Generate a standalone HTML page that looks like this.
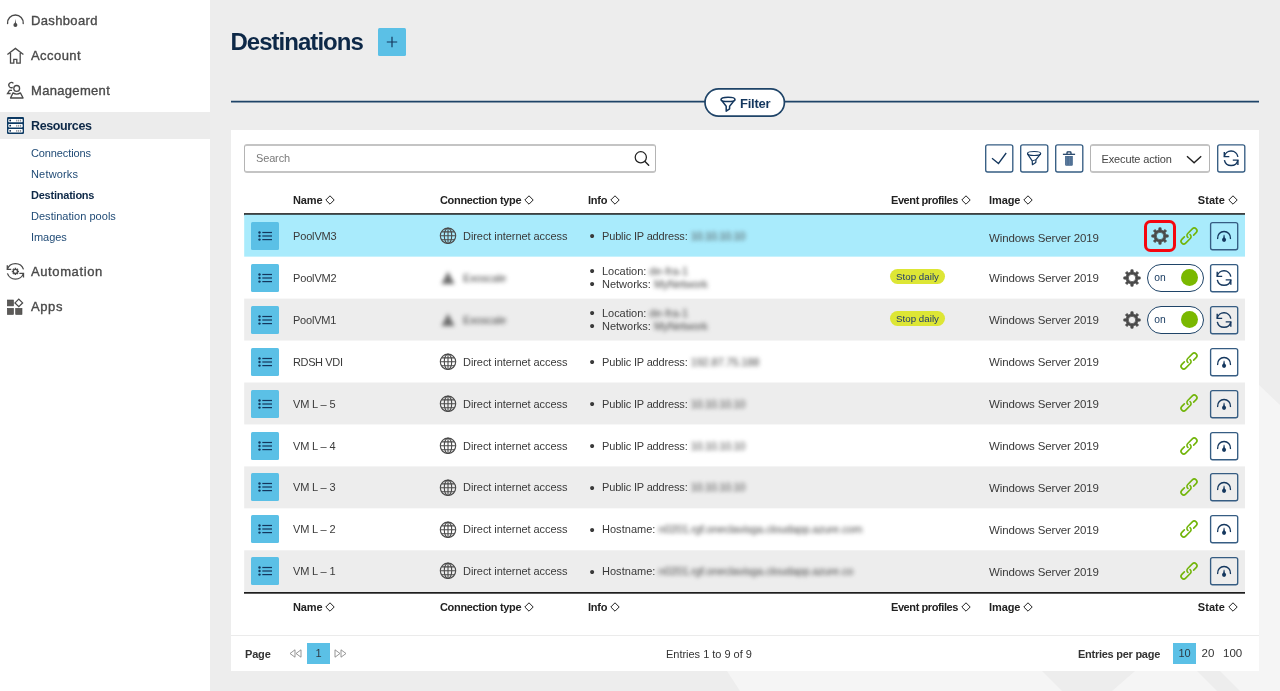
<!DOCTYPE html>
<html lang="en">
<head>
<meta charset="utf-8">
<title>Destinations</title>
<style>
*{box-sizing:border-box;margin:0;padding:0}
html,body{width:1280px;height:691px;overflow:hidden}
body{background:#ededed;font-family:"Liberation Sans",sans-serif;font-size:11px;color:#333;position:relative}
.abs{position:absolute}
svg{display:block;overflow:visible}
/* sidebar */
#side{position:absolute;left:0;top:0;width:210px;height:691px;background:#fff}
.nav{position:absolute;left:0;width:210px;height:28px}
.nav svg{position:absolute;left:6px;top:4px;width:19px;height:19px}
.nav>span{position:absolute;left:31px;top:1px;line-height:28px;font-size:13px;font-weight:normal;color:#4a4a4a;-webkit-text-stroke:0.35px #4a4a4a;white-space:nowrap}
#band{position:absolute;left:0;top:112px;width:210px;height:27px;background:#ececec}
.nav.act>span{color:#0d2847;font-weight:bold;font-size:12.5px;-webkit-text-stroke:0}
.sub{position:absolute;left:31px;font-size:11px;line-height:14px;color:#1f4a75;white-space:nowrap}
.sub.cur{font-weight:bold;color:#0d2847}
/* main */
h1{position:absolute;left:230.4px;top:27px;font-size:24px;line-height:30px;font-weight:bold;color:#0d2847;white-space:nowrap}
#add{position:absolute;left:378px;top:28px;width:28px;height:28px;background:#5bc0e6;border-radius:1.5px}
#hr{position:absolute;left:231px;top:86px;width:1028px;height:34px}
#fpill{position:absolute;left:704px;top:88px;width:81px;height:29px}
#fpill>span{white-space:nowrap;position:absolute;left:36px;top:3px;line-height:26px;font-size:13px;font-weight:bold;color:#14375e}
#card{position:absolute;left:231px;top:130px;width:1028px;height:541px;background:#fff}
#search{position:absolute;left:244px;top:144px;width:412px;height:29px;border:1px solid #bcbcbc;border-top-width:2px;border-bottom-width:2px;border-color:#c4c4c4 #b4b4b4;border-radius:3px;background:#fff}
#search>span{white-space:nowrap;position:absolute;left:11px;top:0;line-height:25px;font-size:11px;color:#7a7a7a}
.tb{position:absolute;top:144px;width:30px;height:30px}
#sel{position:absolute;left:1090px;top:144px;width:120px;height:29px;border:1px solid #bcbcbc;border-top-width:2px;border-bottom-width:2px;border-color:#c4c4c4 #b4b4b4;border-radius:3px;background:#fff}
#sel>span{white-space:nowrap;position:absolute;left:10.5px;top:0;line-height:26px;font-size:11px;color:#444}
.th{position:absolute;font-size:11px;font-weight:bold;color:#222;line-height:14px;white-space:nowrap}
.th svg{display:inline-block;width:10px;height:10px;vertical-align:-1px;margin-left:3px}
.thr{text-align:right}
.rule{position:absolute;left:244px;width:1001px;height:3px}
.r1{top:213px;background:linear-gradient(to bottom,rgba(30,30,30,.85) 0,rgba(30,30,30,.85) 1px,#1e1e1e 1px,#1e1e1e 2px,rgba(30,30,30,.5) 2px,rgba(30,30,30,.5) 3px)}
.r2{top:592px;background:linear-gradient(to bottom,#1e1e1e 0,#1e1e1e 1px,rgba(30,30,30,.72) 1px,rgba(30,30,30,.72) 2px,rgba(30,30,30,0) 2px)}
.row{position:absolute;left:244px;width:1001px;height:42px}
.row.sel .img{top:2.3px}
.row>*{position:absolute;margin-left:1px}
.mb{left:6px;top:7px;width:28px;height:28px;background:#5bc0e6;border-radius:1.5px}
.nm{left:48px;top:0;line-height:42px;white-space:nowrap;color:#3a3a3a}
.gl{left:194px;top:12.2px;width:18px;height:18px}
.ct{left:218px;top:0;line-height:42px;white-space:nowrap;color:#3a3a3a}
.inf{left:345px;top:0;line-height:42px;white-space:nowrap;color:#3a3a3a}
.inf2{left:345px;top:8px;line-height:13px;white-space:nowrap;color:#3a3a3a}
.inf b,.inf2 b{font-weight:normal;display:inline-block;width:12px;font-size:15px;line-height:10px;vertical-align:-1.5px;text-indent:-0.5px}
.bl{filter:blur(2.1px);color:#484848}
.img{left:744px;top:0.6px;line-height:43px;font-size:11.5px;white-space:nowrap;color:#3a3a3a}
.ab{left:964px;top:6px;width:30px;height:30px}
.lk{left:934.2px;top:10.9px;width:20px;height:20px}
.tag{left:644.7px;top:12px;height:15.3px;width:55.6px;border-radius:8px;background:#dde635;color:#1f3a6e;font-size:9.7px;line-height:15.5px;text-align:center}
.tg{left:902px;top:7px;width:57px;height:28px;border:1px solid #1f4468;border-radius:14px;background:#fff}
.tg i{position:absolute;left:32.6px;top:4px;width:17px;height:17px;border-radius:50%;background:#7ab800}
.tg>span{position:absolute;left:6.2px;top:0;line-height:25.5px;font-size:10.3px;font-style:normal;color:#14375e}
.gr{left:878px;top:12.2px;width:18px;height:18px}
#redbox{position:absolute;left:1144px;top:220px;width:31.5px;height:31.5px;border:3px solid #f5060f;border-radius:6.5px}
#sep{position:absolute;left:231px;top:634.5px;width:1028px;height:1.5px;background:#ebebeb}
.pg{position:absolute;font-size:11px;line-height:14px;white-space:nowrap;color:#333}
.pn{font-size:11.5px}
.pgb{position:absolute;background:#5bc0e6;color:#2d3a45;font-size:11px;text-align:center}
</style>
</head>
<body>
<svg width="1280" height="691" viewBox="0 0 1280 691" style="position:absolute;left:0;top:0"><path d="M1259 385L1280 405V691H740L727 671H1259Z" fill="#f5f5f5"/><path d="M1042 671H1135L1112 691H1062ZM1197 671H1220L1240 691H1217Z" fill="#ededed"/></svg>
<div id="side"><div id="band"></div>
<div class="nav" style="top:6px"><svg viewBox="0 0 19 19" width="19" height="19" style=""><path d="M1.58 13.5A7.85 7.85 0 1 1 17.22 13.5" fill="none" stroke="#4a4a4a" stroke-width="1.35" stroke-linecap="round"/><path d="M9.4 8.9l.75 5.4h-1.5z" fill="#4a4a4a"/><circle cx="9.4" cy="15" r="2" fill="#4a4a4a"/></svg><span><span style="letter-spacing:0.35px">Dashboard</span></span></div>
<div class="nav" style="top:41px"><svg viewBox="0 0 19 19" width="19" height="19" style=""><path d="M1.4 9.4L9.4 3.4l8 6M4.5 8v10.2h3.3v-3.8h3v3.8h3.4V8" fill="none" stroke="#4a4a4a" stroke-width="1.3" stroke-linejoin="miter"/></svg><span><span style="letter-spacing:0.44px">Account</span></span></div>
<div class="nav" style="top:76px"><svg viewBox="0 0 19 19" width="19" height="19" style=""><g fill="none" stroke="#4a4a4a" stroke-width="1.3"><circle cx="10.7" cy="8.4" r="2.9"/><path d="M4.5 18L7 12.9Q10.7 15.4 14.4 12.9L17.1 18Z" stroke-linejoin="round"/><path d="M7.4 3.4A2.6 2.6 0 1 0 6.7 7.35"/><path d="M6 10.3H3.5L1.5 13.5H4.6" stroke-linejoin="miter"/></g></svg><span><span style="letter-spacing:0.32px">Management</span></span></div>
<div class="nav act" style="top:111px"><svg viewBox="0 0 19 19" width="19" height="19" style=""><rect x="1" y="2" width="17" height="17" rx="1.2" fill="#0d3a63"/><g fill="#fff"><rect x="2.3" y="3.9" width="14.4" height="3.3" rx=".8"/><rect x="2.3" y="9.1" width="14.4" height="3.3" rx=".8"/><rect x="2.3" y="14.1" width="14.4" height="3.5" rx=".8"/></g><g fill="#0d2a4d"><circle cx="4.2" cy="5.5" r=".9"/><circle cx="4.2" cy="10.7" r=".9"/><circle cx="4.2" cy="15.8" r=".9"/></g><g fill="#8a8f98"><rect x="10.2" y="4.7" width="1.1" height="1.8"/><rect x="12.1" y="4.7" width="1.1" height="1.8"/><rect x="14" y="4.7" width="1.1" height="1.8"/><rect x="10.2" y="9.9" width="1.1" height="1.8"/><rect x="12.1" y="9.9" width="1.1" height="1.8"/><rect x="14" y="9.9" width="1.1" height="1.8"/><rect x="10.2" y="15" width="1.1" height="1.8"/><rect x="12.1" y="15" width="1.1" height="1.8"/><rect x="14" y="15" width="1.1" height="1.8"/></g></svg><span><span style="letter-spacing:-0.37px">Resources</span></span></div>
<div class="nav" style="top:257px"><svg viewBox="0 0 19 19" width="19" height="19" style=""><g fill="none" stroke="#4a4a4a" stroke-width="1.3"><path d="M1.3 8.4A8.55 8.55 0 0 1 17.5 8.4"/><path d="M17.5 12.4A8.55 8.55 0 0 1 1.4 12.4"/><path d="M1.3 4.3V8.4H5.2"/><path d="M13.4 12.4H17.5V16.5"/><circle cx="9.4" cy="10.4" r="2.1"/></g><g stroke="#4a4a4a" stroke-width="1.5"><path d="M9.4 6.8v1.1M9.4 12.9v1.1M5.8 10.4h1.1M11.9 10.4h1.1M6.9 7.9l.8.8M11.1 12.1l.8.8M11.9 7.9l-.8.8M7.7 12.1l-.8.8"/></g></svg><span><span style="letter-spacing:0.61px">Automation</span></span></div>
<div class="nav" style="top:292px"><svg viewBox="0 0 19 19" width="19" height="19" style=""><g fill="#5c5a58" stroke="#454545" stroke-width=".6"><rect x="1.3" y="4" width="6.2" height="5.9"/><rect x="1.3" y="12.3" width="6.2" height="6.2"/><rect x="9.7" y="12.3" width="6.3" height="6.2"/></g><path d="M12.8 3.1l3.8 3.8-3.8 3.8L9 6.9z" fill="none" stroke="#4a4a4a" stroke-width="1.3"/></svg><span><span style="letter-spacing:0.59px">Apps</span></span></div>
<div class="sub" style="top:146px"><span style="letter-spacing:-0.12px">Connections</span></div>
<div class="sub" style="top:167px"><span style="letter-spacing:0.17px">Networks</span></div>
<div class="sub cur" style="top:188px"><span style="letter-spacing:-0.23px">Destinations</span></div>
<div class="sub" style="top:209px"><span style="letter-spacing:0.03px">Destination pools</span></div>
<div class="sub" style="top:230px"><span style="letter-spacing:-0.06px">Images</span></div>
</div>
<h1><span style="letter-spacing:-0.96px">Destinations</span></h1>
<div id="add"><svg viewBox="0 0 28 28" width="28" height="28" style=""><path d="M14 8.8v10.4M8.8 14h10.4" stroke="#14375e" stroke-width="1.2"/></svg></div>
<div id="hr"><svg width="1028" height="34" viewBox="0 0 1028 34"><path d="M0 15.7H1028" stroke="#1f4468" stroke-width="1.7"/><rect x="474" y="2.9" width="79.4" height="27.2" rx="13.6" fill="#fff" stroke="#1f4468" stroke-width="1.7"/></svg></div>
<div id="fpill"><svg viewBox="0 0 16 16" width="16" height="16" style="position:absolute;left:16px;top:8px"><g fill="none" stroke="#14375e" stroke-width="1.5" stroke-linejoin="round"><ellipse cx="8" cy="3.4" rx="7" ry="2.2"/><path d="M1 3.6l5.2 6.6v5l3.4-2.4v-2.6l5.4-6.6"/></g></svg><span><span style="letter-spacing:-0.26px">Filter</span></span></div>
<div id="card"></div>
<div id="search"><span><span style="letter-spacing:-0.15px">Search</span></span><svg viewBox="0 0 20 20" width="20" height="20" style="position:absolute;left:388px;top:4.3px"><circle cx="7.8" cy="7.3" r="5.6" fill="none" stroke="#222" stroke-width="1.25"/><path d="M12 11.5l3.7 3.8" stroke="#222" stroke-width="1.4" stroke-linecap="round"/></svg></div>
<div class="tb" style="left:985px"><svg viewBox="0 0 30 30" width="30" height="30" style=""><rect x="0.70" y="0.80" width="27.1" height="27.2" rx="2" fill="#fff" stroke="#365d83" stroke-width="1.35"/><g transform="translate(0 0.1)"><path d="M7 14.2l6.5 5.2L21.2 8.9" fill="none" stroke="#14375e" stroke-width="1.3"/></g></svg></div>
<div class="tb" style="left:1020px"><svg viewBox="0 0 30 30" width="30" height="30" style=""><rect x="0.70" y="0.80" width="27.1" height="27.2" rx="2" fill="#fff" stroke="#365d83" stroke-width="1.35"/><g transform="translate(0 0.1)"><g fill="none" stroke="#14375e" stroke-width="1.2" stroke-linejoin="round"><ellipse cx="14.1" cy="9.4" rx="6.6" ry="2"/><path d="M7.6 10l4.6 6.8.2 3.8 3.4-2.2.2-2.8 4.6-5.8"/><path d="M12.2 16.8l3.8-1.2" stroke-width=".9"/></g></g></svg></div>
<div class="tb" style="left:1055px"><svg viewBox="0 0 30 30" width="30" height="30" style=""><rect x="0.70" y="0.80" width="27.1" height="27.2" rx="2" fill="#fff" stroke="#365d83" stroke-width="1.35"/><g transform="translate(0 0.1)"><g fill="#14375e"><rect x="7.9" y="9.6" width="12.2" height="1.2"/><path d="M11.4 9.8V8.6q0-1.4 1.4-1.4h2.4q1.4 0 1.4 1.4v1.2h-1.2V8.6q0-.3-.3-.3h-2.2q-.3 0-.3.3v1.2z"/></g><path d="M10.1 12h7.7v8.6q0 1-1 1h-5.7q-1 0-1-1z" fill="#45678c"/><path d="M11.6 12.4v8.6M13 12.4v8.6M14.5 12.4v8.6M16 12.4v8.6" stroke="#6f8cab" stroke-width=".6"/></g></svg></div>
<div id="sel"><span><span style="letter-spacing:-0.13px">Execute action</span></span><svg viewBox="0 0 16 10" width="16" height="10" style="position:absolute;left:95px;top:9.2px"><path d="M1 1.2l7.1 6.6 7.1-6.6" fill="none" stroke="#222" stroke-width="1.4"/></svg></div>
<div class="tb" style="left:1217px"><svg viewBox="0 0 30 30" width="30" height="30" style=""><rect x="0.70" y="0.80" width="27.1" height="27.2" rx="2" fill="#fff" stroke="#365d83" stroke-width="1.35"/><g transform="translate(0 0.1)"><g fill="none" stroke="#14375e" stroke-width="1.4" stroke-linejoin="miter"><path d="M7.3 12.5A6.9 6.9 0 0 1 20.9 12.8"/><path d="M20.9 16A6.9 6.9 0 0 1 7.4 16"/><path d="M7.3 7.8V12.5H12.3"/><path d="M15.8 16H20.9V20.8"/></g></g></svg></div>
<div class="th" style="left:293px;top:193px"><span style="letter-spacing:-0.12px">Name</span><svg viewBox="0 0 10 10" width="10" height="10" style=""><path d="M5 .8L9.2 5 5 9.2.8 5z" fill="none" stroke="#222" stroke-width="1"/></svg></div>
<div class="th" style="left:440px;top:193px"><span style="letter-spacing:-0.33px">Connection type</span><svg viewBox="0 0 10 10" width="10" height="10" style=""><path d="M5 .8L9.2 5 5 9.2.8 5z" fill="none" stroke="#222" stroke-width="1"/></svg></div>
<div class="th" style="left:588px;top:193px"><span style="letter-spacing:-0.22px">Info</span><svg viewBox="0 0 10 10" width="10" height="10" style=""><path d="M5 .8L9.2 5 5 9.2.8 5z" fill="none" stroke="#222" stroke-width="1"/></svg></div>
<div class="th thr" style="right:309px;top:193px"><span style="letter-spacing:-0.41px">Event profiles</span><svg viewBox="0 0 10 10" width="10" height="10" style=""><path d="M5 .8L9.2 5 5 9.2.8 5z" fill="none" stroke="#222" stroke-width="1"/></svg></div>
<div class="th" style="left:989px;top:193px"><span style="letter-spacing:-0.10px">Image</span><svg viewBox="0 0 10 10" width="10" height="10" style=""><path d="M5 .8L9.2 5 5 9.2.8 5z" fill="none" stroke="#222" stroke-width="1"/></svg></div>
<div class="th thr" style="right:42px;top:193px"><span style="letter-spacing:0.05px">State</span><svg viewBox="0 0 10 10" width="10" height="10" style=""><path d="M5 .8L9.2 5 5 9.2.8 5z" fill="none" stroke="#222" stroke-width="1"/></svg></div>
<div class="rule r1"></div>
<svg width="1280" height="691" viewBox="0 0 1280 691" style="position:absolute;left:0;top:0"><rect x="244.2" y="214.70" width="1000.8" height="41.95" fill="#a9ebfc"/><rect x="244.2" y="298.60" width="1000.8" height="41.95" fill="#ededed"/><rect x="244.2" y="382.50" width="1000.8" height="41.95" fill="#ededed"/><rect x="244.2" y="466.40" width="1000.8" height="41.95" fill="#ededed"/><rect x="244.2" y="550.30" width="1000.8" height="41.95" fill="#ededed"/></svg>
<div class="row sel" style="top:214.7px">
<div class="mb"><svg viewBox="0 0 28 28" width="28" height="28" style=""><g fill="#14375e"><circle cx="8.5" cy="10.5" r="1.2"/><circle cx="8.5" cy="14" r="1.2"/><circle cx="8.5" cy="17.6" r="1.2"/><rect x="11.3" y="9.9" width="9.7" height="1.2"/><rect x="11.3" y="13.4" width="9.7" height="1.2"/><rect x="11.3" y="17" width="9.7" height="1.2"/></g></svg></div><div class="nm"><span style="letter-spacing:-0.16px">PoolVM3</span></div>
<div class="gl"><svg viewBox="0 0 18 18" width="18" height="18" style=""><g fill="none" stroke="#4a4a4a" stroke-width="1.1"><circle cx="9" cy="8.8" r="7.7"/><ellipse cx="9" cy="8.8" rx="3.7" ry="7.7"/><path d="M9 1.1v15.4M1.3 8.8h15.4M2.6 4.9h12.8M2.6 12.7h12.8"/></g></svg></div><div class="ct"><span style="letter-spacing:-0.06px">Direct internet access</span></div>
<div class="inf"><b>•</b><span style="letter-spacing:-0.16px">Public IP address:</span> <span class="bl"><span style="letter-spacing:-0.33px">10.10.10.10</span></span></div>
<div class="img"><span style="letter-spacing:-0.14px">Windows Server 2019</span></div>
<div class="gr" style="left:906px"><svg viewBox="0 0 18 18" width="18" height="18" style=""><path d="M7.73 3.03L7.92 0.77L10.08 0.77L10.27 3.03L12.32 3.88L14.06 2.42L15.58 3.94L14.12 5.68L14.97 7.73L17.23 7.92L17.23 10.08L14.97 10.27L14.12 12.32L15.58 14.06L14.06 15.58L12.32 14.12L10.27 14.97L10.08 17.23L7.92 17.23L7.73 14.97L5.68 14.12L3.94 15.58L2.42 14.06L3.88 12.32L3.03 10.27L0.77 10.08L0.77 7.92L3.03 7.73L3.88 5.68L2.42 3.94L3.94 2.42L5.68 3.88ZM5.3 9a3.7 3.7 0 1 0 7.4 0a3.7 3.7 0 1 0 -7.4 0Z" fill="#4a4a4a" fill-rule="evenodd" stroke="#4a4a4a" stroke-width=".7" stroke-linejoin="round"/></svg></div>
<div class="lk"><svg viewBox="0 0 20 20" width="20" height="20" style=""><g fill="none" stroke="#72b50a" stroke-width="1.6" stroke-linecap="round" transform="translate(10 10) rotate(-45)"><path d="M3.9 2.7H7.4A2.7 2.7 0 0 0 7.4 -2.7H.9A2.7 2.7 0 0 0 -1.8 .3"/><path d="M-3.9 -2.7H-7.4A2.7 2.7 0 0 0 -7.4 2.7H-.9A2.7 2.7 0 0 0 1.8 -.3"/></g></svg></div><div class="ab"><svg viewBox="0 0 30 30" width="30" height="30" style=""><rect x="1.60" y="1.55" width="27.1" height="27.2" rx="2" fill="none" stroke="#365d83" stroke-width="1.35"/><g transform="translate(0.9 0.85)"><path d="M7.72 16.6A6.45 6.45 0 1 1 20.58 16.6" fill="none" stroke="#14375e" stroke-width="1.35" stroke-linecap="round"/><path d="M13.8 13h.7l.8 4.6h-2.3z" fill="#14375e"/><circle cx="14.15" cy="18" r="2.05" fill="#14375e"/></g></svg></div>
</div>
<div class="row" style="top:256.65px">
<div class="mb"><svg viewBox="0 0 28 28" width="28" height="28" style=""><g fill="#14375e"><circle cx="8.5" cy="10.5" r="1.2"/><circle cx="8.5" cy="14" r="1.2"/><circle cx="8.5" cy="17.6" r="1.2"/><rect x="11.3" y="9.9" width="9.7" height="1.2"/><rect x="11.3" y="13.4" width="9.7" height="1.2"/><rect x="11.3" y="17" width="9.7" height="1.2"/></g></svg></div><div class="nm"><span style="letter-spacing:-0.16px">PoolVM2</span></div>
<div class="gl bl"><svg viewBox="0 0 18 18" width="18" height="18" style=""><path d="M9 2.5l6.5 12.5H2.5z" fill="#6a6a6a"/></svg></div><div class="ct bl"><span style="letter-spacing:-0.19px">Exoscale</span></div>
<div class="inf2"><b>•</b><span style="letter-spacing:-0.04px">Location:</span> <span class="bl"><span style="letter-spacing:0.04px">de-fra-1</span></span><br><b>•</b><span style="letter-spacing:-0.01px">Networks:</span> <span class="bl"><span style="letter-spacing:-0.15px">MyNetwork</span></span><br></div>
<div class="tag"><span style="letter-spacing:0.05px">Stop daily</span></div>
<div class="img"><span style="letter-spacing:-0.14px">Windows Server 2019</span></div>
<div class="gr"><svg viewBox="0 0 18 18" width="18" height="18" style=""><path d="M7.73 3.03L7.92 0.77L10.08 0.77L10.27 3.03L12.32 3.88L14.06 2.42L15.58 3.94L14.12 5.68L14.97 7.73L17.23 7.92L17.23 10.08L14.97 10.27L14.12 12.32L15.58 14.06L14.06 15.58L12.32 14.12L10.27 14.97L10.08 17.23L7.92 17.23L7.73 14.97L5.68 14.12L3.94 15.58L2.42 14.06L3.88 12.32L3.03 10.27L0.77 10.08L0.77 7.92L3.03 7.73L3.88 5.68L2.42 3.94L3.94 2.42L5.68 3.88ZM5.3 9a3.7 3.7 0 1 0 7.4 0a3.7 3.7 0 1 0 -7.4 0Z" fill="#4a4a4a" fill-rule="evenodd" stroke="#4a4a4a" stroke-width=".7" stroke-linejoin="round"/></svg></div><div class="tg"><span>on</span><i></i></div><div class="ab"><svg viewBox="0 0 30 30" width="30" height="30" style=""><rect x="1.60" y="1.55" width="27.1" height="27.2" rx="2" fill="none" stroke="#365d83" stroke-width="1.35"/><g transform="translate(0.9 0.85)"><g fill="none" stroke="#14375e" stroke-width="1.4" stroke-linejoin="miter"><path d="M7.3 12.5A6.9 6.9 0 0 1 20.9 12.8"/><path d="M20.9 16A6.9 6.9 0 0 1 7.4 16"/><path d="M7.3 7.8V12.5H12.3"/><path d="M15.8 16H20.9V20.8"/></g></g></svg></div>
</div>
<div class="row alt" style="top:298.6px">
<div class="mb"><svg viewBox="0 0 28 28" width="28" height="28" style=""><g fill="#14375e"><circle cx="8.5" cy="10.5" r="1.2"/><circle cx="8.5" cy="14" r="1.2"/><circle cx="8.5" cy="17.6" r="1.2"/><rect x="11.3" y="9.9" width="9.7" height="1.2"/><rect x="11.3" y="13.4" width="9.7" height="1.2"/><rect x="11.3" y="17" width="9.7" height="1.2"/></g></svg></div><div class="nm"><span style="letter-spacing:-0.22px">PoolVM1</span></div>
<div class="gl bl"><svg viewBox="0 0 18 18" width="18" height="18" style=""><path d="M9 2.5l6.5 12.5H2.5z" fill="#6a6a6a"/></svg></div><div class="ct bl"><span style="letter-spacing:-0.19px">Exoscale</span></div>
<div class="inf2"><b>•</b><span style="letter-spacing:-0.04px">Location:</span> <span class="bl"><span style="letter-spacing:0.04px">de-fra-1</span></span><br><b>•</b><span style="letter-spacing:-0.01px">Networks:</span> <span class="bl"><span style="letter-spacing:-0.15px">MyNetwork</span></span><br></div>
<div class="tag"><span style="letter-spacing:0.05px">Stop daily</span></div>
<div class="img"><span style="letter-spacing:-0.14px">Windows Server 2019</span></div>
<div class="gr"><svg viewBox="0 0 18 18" width="18" height="18" style=""><path d="M7.73 3.03L7.92 0.77L10.08 0.77L10.27 3.03L12.32 3.88L14.06 2.42L15.58 3.94L14.12 5.68L14.97 7.73L17.23 7.92L17.23 10.08L14.97 10.27L14.12 12.32L15.58 14.06L14.06 15.58L12.32 14.12L10.27 14.97L10.08 17.23L7.92 17.23L7.73 14.97L5.68 14.12L3.94 15.58L2.42 14.06L3.88 12.32L3.03 10.27L0.77 10.08L0.77 7.92L3.03 7.73L3.88 5.68L2.42 3.94L3.94 2.42L5.68 3.88ZM5.3 9a3.7 3.7 0 1 0 7.4 0a3.7 3.7 0 1 0 -7.4 0Z" fill="#4a4a4a" fill-rule="evenodd" stroke="#4a4a4a" stroke-width=".7" stroke-linejoin="round"/></svg></div><div class="tg"><span>on</span><i></i></div><div class="ab"><svg viewBox="0 0 30 30" width="30" height="30" style=""><rect x="1.60" y="1.55" width="27.1" height="27.2" rx="2" fill="none" stroke="#365d83" stroke-width="1.35"/><g transform="translate(0.9 0.85)"><g fill="none" stroke="#14375e" stroke-width="1.4" stroke-linejoin="miter"><path d="M7.3 12.5A6.9 6.9 0 0 1 20.9 12.8"/><path d="M20.9 16A6.9 6.9 0 0 1 7.4 16"/><path d="M7.3 7.8V12.5H12.3"/><path d="M15.8 16H20.9V20.8"/></g></g></svg></div>
</div>
<div class="row" style="top:340.55px">
<div class="mb"><svg viewBox="0 0 28 28" width="28" height="28" style=""><g fill="#14375e"><circle cx="8.5" cy="10.5" r="1.2"/><circle cx="8.5" cy="14" r="1.2"/><circle cx="8.5" cy="17.6" r="1.2"/><rect x="11.3" y="9.9" width="9.7" height="1.2"/><rect x="11.3" y="13.4" width="9.7" height="1.2"/><rect x="11.3" y="17" width="9.7" height="1.2"/></g></svg></div><div class="nm"><span style="letter-spacing:-0.37px">RDSH VDI</span></div>
<div class="gl"><svg viewBox="0 0 18 18" width="18" height="18" style=""><g fill="none" stroke="#4a4a4a" stroke-width="1.1"><circle cx="9" cy="8.8" r="7.7"/><ellipse cx="9" cy="8.8" rx="3.7" ry="7.7"/><path d="M9 1.1v15.4M1.3 8.8h15.4M2.6 4.9h12.8M2.6 12.7h12.8"/></g></svg></div><div class="ct"><span style="letter-spacing:-0.06px">Direct internet access</span></div>
<div class="inf"><b>•</b><span style="letter-spacing:-0.16px">Public IP address:</span> <span class="bl"><span style="letter-spacing:-0.13px">192.87.75.188</span></span></div>
<div class="img"><span style="letter-spacing:-0.14px">Windows Server 2019</span></div>
<div class="lk"><svg viewBox="0 0 20 20" width="20" height="20" style=""><g fill="none" stroke="#72b50a" stroke-width="1.6" stroke-linecap="round" transform="translate(10 10) rotate(-45)"><path d="M3.9 2.7H7.4A2.7 2.7 0 0 0 7.4 -2.7H.9A2.7 2.7 0 0 0 -1.8 .3"/><path d="M-3.9 -2.7H-7.4A2.7 2.7 0 0 0 -7.4 2.7H-.9A2.7 2.7 0 0 0 1.8 -.3"/></g></svg></div><div class="ab"><svg viewBox="0 0 30 30" width="30" height="30" style=""><rect x="1.60" y="1.55" width="27.1" height="27.2" rx="2" fill="none" stroke="#365d83" stroke-width="1.35"/><g transform="translate(0.9 0.85)"><path d="M7.72 16.6A6.45 6.45 0 1 1 20.58 16.6" fill="none" stroke="#14375e" stroke-width="1.35" stroke-linecap="round"/><path d="M13.8 13h.7l.8 4.6h-2.3z" fill="#14375e"/><circle cx="14.15" cy="18" r="2.05" fill="#14375e"/></g></svg></div>
</div>
<div class="row alt" style="top:382.5px">
<div class="mb"><svg viewBox="0 0 28 28" width="28" height="28" style=""><g fill="#14375e"><circle cx="8.5" cy="10.5" r="1.2"/><circle cx="8.5" cy="14" r="1.2"/><circle cx="8.5" cy="17.6" r="1.2"/><rect x="11.3" y="9.9" width="9.7" height="1.2"/><rect x="11.3" y="13.4" width="9.7" height="1.2"/><rect x="11.3" y="17" width="9.7" height="1.2"/></g></svg></div><div class="nm"><span style="letter-spacing:-0.16px">VM L – 5</span></div>
<div class="gl"><svg viewBox="0 0 18 18" width="18" height="18" style=""><g fill="none" stroke="#4a4a4a" stroke-width="1.1"><circle cx="9" cy="8.8" r="7.7"/><ellipse cx="9" cy="8.8" rx="3.7" ry="7.7"/><path d="M9 1.1v15.4M1.3 8.8h15.4M2.6 4.9h12.8M2.6 12.7h12.8"/></g></svg></div><div class="ct"><span style="letter-spacing:-0.06px">Direct internet access</span></div>
<div class="inf"><b>•</b><span style="letter-spacing:-0.16px">Public IP address:</span> <span class="bl"><span style="letter-spacing:-0.33px">10.10.10.10</span></span></div>
<div class="img"><span style="letter-spacing:-0.14px">Windows Server 2019</span></div>
<div class="lk"><svg viewBox="0 0 20 20" width="20" height="20" style=""><g fill="none" stroke="#72b50a" stroke-width="1.6" stroke-linecap="round" transform="translate(10 10) rotate(-45)"><path d="M3.9 2.7H7.4A2.7 2.7 0 0 0 7.4 -2.7H.9A2.7 2.7 0 0 0 -1.8 .3"/><path d="M-3.9 -2.7H-7.4A2.7 2.7 0 0 0 -7.4 2.7H-.9A2.7 2.7 0 0 0 1.8 -.3"/></g></svg></div><div class="ab"><svg viewBox="0 0 30 30" width="30" height="30" style=""><rect x="1.60" y="1.55" width="27.1" height="27.2" rx="2" fill="none" stroke="#365d83" stroke-width="1.35"/><g transform="translate(0.9 0.85)"><path d="M7.72 16.6A6.45 6.45 0 1 1 20.58 16.6" fill="none" stroke="#14375e" stroke-width="1.35" stroke-linecap="round"/><path d="M13.8 13h.7l.8 4.6h-2.3z" fill="#14375e"/><circle cx="14.15" cy="18" r="2.05" fill="#14375e"/></g></svg></div>
</div>
<div class="row" style="top:424.75px">
<div class="mb"><svg viewBox="0 0 28 28" width="28" height="28" style=""><g fill="#14375e"><circle cx="8.5" cy="10.5" r="1.2"/><circle cx="8.5" cy="14" r="1.2"/><circle cx="8.5" cy="17.6" r="1.2"/><rect x="11.3" y="9.9" width="9.7" height="1.2"/><rect x="11.3" y="13.4" width="9.7" height="1.2"/><rect x="11.3" y="17" width="9.7" height="1.2"/></g></svg></div><div class="nm"><span style="letter-spacing:-0.16px">VM L – 4</span></div>
<div class="gl"><svg viewBox="0 0 18 18" width="18" height="18" style=""><g fill="none" stroke="#4a4a4a" stroke-width="1.1"><circle cx="9" cy="8.8" r="7.7"/><ellipse cx="9" cy="8.8" rx="3.7" ry="7.7"/><path d="M9 1.1v15.4M1.3 8.8h15.4M2.6 4.9h12.8M2.6 12.7h12.8"/></g></svg></div><div class="ct"><span style="letter-spacing:-0.06px">Direct internet access</span></div>
<div class="inf"><b>•</b><span style="letter-spacing:-0.16px">Public IP address:</span> <span class="bl"><span style="letter-spacing:-0.33px">10.10.10.10</span></span></div>
<div class="img"><span style="letter-spacing:-0.14px">Windows Server 2019</span></div>
<div class="lk"><svg viewBox="0 0 20 20" width="20" height="20" style=""><g fill="none" stroke="#72b50a" stroke-width="1.6" stroke-linecap="round" transform="translate(10 10) rotate(-45)"><path d="M3.9 2.7H7.4A2.7 2.7 0 0 0 7.4 -2.7H.9A2.7 2.7 0 0 0 -1.8 .3"/><path d="M-3.9 -2.7H-7.4A2.7 2.7 0 0 0 -7.4 2.7H-.9A2.7 2.7 0 0 0 1.8 -.3"/></g></svg></div><div class="ab"><svg viewBox="0 0 30 30" width="30" height="30" style=""><rect x="1.60" y="1.55" width="27.1" height="27.2" rx="2" fill="none" stroke="#365d83" stroke-width="1.35"/><g transform="translate(0.9 0.85)"><path d="M7.72 16.6A6.45 6.45 0 1 1 20.58 16.6" fill="none" stroke="#14375e" stroke-width="1.35" stroke-linecap="round"/><path d="M13.8 13h.7l.8 4.6h-2.3z" fill="#14375e"/><circle cx="14.15" cy="18" r="2.05" fill="#14375e"/></g></svg></div>
</div>
<div class="row alt" style="top:466.4px">
<div class="mb"><svg viewBox="0 0 28 28" width="28" height="28" style=""><g fill="#14375e"><circle cx="8.5" cy="10.5" r="1.2"/><circle cx="8.5" cy="14" r="1.2"/><circle cx="8.5" cy="17.6" r="1.2"/><rect x="11.3" y="9.9" width="9.7" height="1.2"/><rect x="11.3" y="13.4" width="9.7" height="1.2"/><rect x="11.3" y="17" width="9.7" height="1.2"/></g></svg></div><div class="nm"><span style="letter-spacing:-0.16px">VM L – 3</span></div>
<div class="gl"><svg viewBox="0 0 18 18" width="18" height="18" style=""><g fill="none" stroke="#4a4a4a" stroke-width="1.1"><circle cx="9" cy="8.8" r="7.7"/><ellipse cx="9" cy="8.8" rx="3.7" ry="7.7"/><path d="M9 1.1v15.4M1.3 8.8h15.4M2.6 4.9h12.8M2.6 12.7h12.8"/></g></svg></div><div class="ct"><span style="letter-spacing:-0.06px">Direct internet access</span></div>
<div class="inf"><b>•</b><span style="letter-spacing:-0.16px">Public IP address:</span> <span class="bl"><span style="letter-spacing:-0.33px">10.10.10.10</span></span></div>
<div class="img"><span style="letter-spacing:-0.14px">Windows Server 2019</span></div>
<div class="lk"><svg viewBox="0 0 20 20" width="20" height="20" style=""><g fill="none" stroke="#72b50a" stroke-width="1.6" stroke-linecap="round" transform="translate(10 10) rotate(-45)"><path d="M3.9 2.7H7.4A2.7 2.7 0 0 0 7.4 -2.7H.9A2.7 2.7 0 0 0 -1.8 .3"/><path d="M-3.9 -2.7H-7.4A2.7 2.7 0 0 0 -7.4 2.7H-.9A2.7 2.7 0 0 0 1.8 -.3"/></g></svg></div><div class="ab"><svg viewBox="0 0 30 30" width="30" height="30" style=""><rect x="1.60" y="1.55" width="27.1" height="27.2" rx="2" fill="none" stroke="#365d83" stroke-width="1.35"/><g transform="translate(0.9 0.85)"><path d="M7.72 16.6A6.45 6.45 0 1 1 20.58 16.6" fill="none" stroke="#14375e" stroke-width="1.35" stroke-linecap="round"/><path d="M13.8 13h.7l.8 4.6h-2.3z" fill="#14375e"/><circle cx="14.15" cy="18" r="2.05" fill="#14375e"/></g></svg></div>
</div>
<div class="row" style="top:508.35px">
<div class="mb"><svg viewBox="0 0 28 28" width="28" height="28" style=""><g fill="#14375e"><circle cx="8.5" cy="10.5" r="1.2"/><circle cx="8.5" cy="14" r="1.2"/><circle cx="8.5" cy="17.6" r="1.2"/><rect x="11.3" y="9.9" width="9.7" height="1.2"/><rect x="11.3" y="13.4" width="9.7" height="1.2"/><rect x="11.3" y="17" width="9.7" height="1.2"/></g></svg></div><div class="nm"><span style="letter-spacing:-0.16px">VM L – 2</span></div>
<div class="gl"><svg viewBox="0 0 18 18" width="18" height="18" style=""><g fill="none" stroke="#4a4a4a" stroke-width="1.1"><circle cx="9" cy="8.8" r="7.7"/><ellipse cx="9" cy="8.8" rx="3.7" ry="7.7"/><path d="M9 1.1v15.4M1.3 8.8h15.4M2.6 4.9h12.8M2.6 12.7h12.8"/></g></svg></div><div class="ct"><span style="letter-spacing:-0.06px">Direct internet access</span></div>
<div class="inf"><b>•</b><span style="letter-spacing:0.03px">Hostname:</span> <span class="bl"><span style="letter-spacing:-0.15px">n0201.rgf.oneclavisga.cloudapp.azure.com</span></span></div>
<div class="img"><span style="letter-spacing:-0.14px">Windows Server 2019</span></div>
<div class="lk"><svg viewBox="0 0 20 20" width="20" height="20" style=""><g fill="none" stroke="#72b50a" stroke-width="1.6" stroke-linecap="round" transform="translate(10 10) rotate(-45)"><path d="M3.9 2.7H7.4A2.7 2.7 0 0 0 7.4 -2.7H.9A2.7 2.7 0 0 0 -1.8 .3"/><path d="M-3.9 -2.7H-7.4A2.7 2.7 0 0 0 -7.4 2.7H-.9A2.7 2.7 0 0 0 1.8 -.3"/></g></svg></div><div class="ab"><svg viewBox="0 0 30 30" width="30" height="30" style=""><rect x="1.60" y="1.55" width="27.1" height="27.2" rx="2" fill="none" stroke="#365d83" stroke-width="1.35"/><g transform="translate(0.9 0.85)"><path d="M7.72 16.6A6.45 6.45 0 1 1 20.58 16.6" fill="none" stroke="#14375e" stroke-width="1.35" stroke-linecap="round"/><path d="M13.8 13h.7l.8 4.6h-2.3z" fill="#14375e"/><circle cx="14.15" cy="18" r="2.05" fill="#14375e"/></g></svg></div>
</div>
<div class="row alt" style="top:550.3px">
<div class="mb"><svg viewBox="0 0 28 28" width="28" height="28" style=""><g fill="#14375e"><circle cx="8.5" cy="10.5" r="1.2"/><circle cx="8.5" cy="14" r="1.2"/><circle cx="8.5" cy="17.6" r="1.2"/><rect x="11.3" y="9.9" width="9.7" height="1.2"/><rect x="11.3" y="13.4" width="9.7" height="1.2"/><rect x="11.3" y="17" width="9.7" height="1.2"/></g></svg></div><div class="nm"><span style="letter-spacing:-0.16px">VM L – 1</span></div>
<div class="gl"><svg viewBox="0 0 18 18" width="18" height="18" style=""><g fill="none" stroke="#4a4a4a" stroke-width="1.1"><circle cx="9" cy="8.8" r="7.7"/><ellipse cx="9" cy="8.8" rx="3.7" ry="7.7"/><path d="M9 1.1v15.4M1.3 8.8h15.4M2.6 4.9h12.8M2.6 12.7h12.8"/></g></svg></div><div class="ct"><span style="letter-spacing:-0.06px">Direct internet access</span></div>
<div class="inf"><b>•</b><span style="letter-spacing:0.03px">Hostname:</span> <span class="bl"><span style="letter-spacing:-0.15px">n0201.rgf.oneclavisga.cloudapp.azure.co</span></span></div>
<div class="img"><span style="letter-spacing:-0.14px">Windows Server 2019</span></div>
<div class="lk"><svg viewBox="0 0 20 20" width="20" height="20" style=""><g fill="none" stroke="#72b50a" stroke-width="1.6" stroke-linecap="round" transform="translate(10 10) rotate(-45)"><path d="M3.9 2.7H7.4A2.7 2.7 0 0 0 7.4 -2.7H.9A2.7 2.7 0 0 0 -1.8 .3"/><path d="M-3.9 -2.7H-7.4A2.7 2.7 0 0 0 -7.4 2.7H-.9A2.7 2.7 0 0 0 1.8 -.3"/></g></svg></div><div class="ab"><svg viewBox="0 0 30 30" width="30" height="30" style=""><rect x="1.60" y="1.55" width="27.1" height="27.2" rx="2" fill="none" stroke="#365d83" stroke-width="1.35"/><g transform="translate(0.9 0.85)"><path d="M7.72 16.6A6.45 6.45 0 1 1 20.58 16.6" fill="none" stroke="#14375e" stroke-width="1.35" stroke-linecap="round"/><path d="M13.8 13h.7l.8 4.6h-2.3z" fill="#14375e"/><circle cx="14.15" cy="18" r="2.05" fill="#14375e"/></g></svg></div>
</div>
<div class="rule r2"></div>
<div class="th" style="left:293px;top:600px"><span style="letter-spacing:-0.12px">Name</span><svg viewBox="0 0 10 10" width="10" height="10" style=""><path d="M5 .8L9.2 5 5 9.2.8 5z" fill="none" stroke="#222" stroke-width="1"/></svg></div>
<div class="th" style="left:440px;top:600px"><span style="letter-spacing:-0.33px">Connection type</span><svg viewBox="0 0 10 10" width="10" height="10" style=""><path d="M5 .8L9.2 5 5 9.2.8 5z" fill="none" stroke="#222" stroke-width="1"/></svg></div>
<div class="th" style="left:588px;top:600px"><span style="letter-spacing:-0.22px">Info</span><svg viewBox="0 0 10 10" width="10" height="10" style=""><path d="M5 .8L9.2 5 5 9.2.8 5z" fill="none" stroke="#222" stroke-width="1"/></svg></div>
<div class="th thr" style="right:309px;top:600px"><span style="letter-spacing:-0.41px">Event profiles</span><svg viewBox="0 0 10 10" width="10" height="10" style=""><path d="M5 .8L9.2 5 5 9.2.8 5z" fill="none" stroke="#222" stroke-width="1"/></svg></div>
<div class="th" style="left:989px;top:600px"><span style="letter-spacing:-0.10px">Image</span><svg viewBox="0 0 10 10" width="10" height="10" style=""><path d="M5 .8L9.2 5 5 9.2.8 5z" fill="none" stroke="#222" stroke-width="1"/></svg></div>
<div class="th thr" style="right:42px;top:600px"><span style="letter-spacing:0.05px">State</span><svg viewBox="0 0 10 10" width="10" height="10" style=""><path d="M5 .8L9.2 5 5 9.2.8 5z" fill="none" stroke="#222" stroke-width="1"/></svg></div>
<div id="redbox"></div>
<div id="sep"></div>
<div class="pg" style="left:245px;top:647px;font-weight:bold"><span style="letter-spacing:-0.17px">Page</span></div>
<div class="abs" style="left:289px;top:649px"><svg viewBox="0 0 13 9" width="13" height="9" style=""><g fill="none" stroke="#8a8a8a" stroke-width=".9"><path d="M6 .8L1 4.5l5 3.7z"/><path d="M12 .8L7 4.5l5 3.7z"/></g></svg></div>
<div class="pgb" style="left:307px;top:643px;width:23px;height:21px;line-height:21px">1</div>
<div class="abs" style="left:334px;top:649px"><svg viewBox="0 0 13 9" width="13" height="9" style=""><g fill="none" stroke="#8a8a8a" stroke-width=".9"><path d="M1 .8L6 4.5 1 8.2z"/><path d="M7 .8l5 3.7-5 3.7z"/></g></svg></div>
<div class="pg" style="left:666px;top:647px"><span style="letter-spacing:-0.02px">Entries 1 to 9 of 9</span></div>
<div class="pg" style="left:1078px;top:647px;font-weight:bold"><span style="letter-spacing:-0.26px">Entries per page</span></div>
<div class="pgb" style="left:1173px;top:643px;width:23px;height:21px;line-height:21px">10</div>
<div class="pg pn" style="left:1201.5px;top:646px">20</div>
<div class="pg pn" style="left:1223px;top:646px">100</div>
</body>
</html>
